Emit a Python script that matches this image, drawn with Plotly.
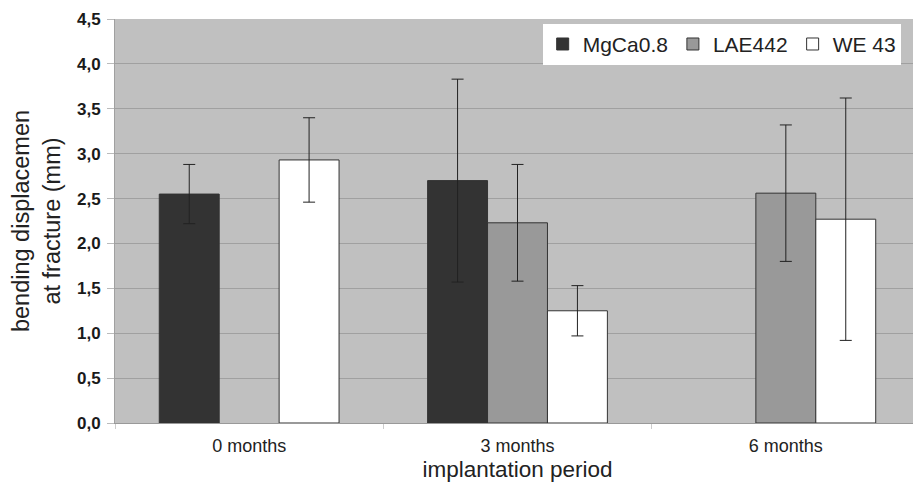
import plotly.graph_objects as go

categories = ["0 months", "3 months", "6 months"]
series_names = ["MgCa0.8", "LAE442", "WE 43"]
mgca_vals = [2.55, 2.70, None]
mgca_err = [0.33, 1.13, None]
lae_vals = [None, 2.23, 2.56]
lae_err = [None, 0.65, 0.76]
we_vals = [2.93, 1.25, 2.27]
we_err = [0.47, 0.28, 1.35]
y_ticks = [0, 0.5, 1.0, 1.5, 2.0, 2.5, 3.0, 3.5, 4.0, 4.5]
y_tick_labels = ["0,0", "0,5", "1,0", "1,5", "2,0", "2,5", "3,0", "3,5", "4,0", "4,5"]

colors = ["#333333", "#999999", "#ffffff"]
vals = [mgca_vals, lae_vals, we_vals]
errs = [mgca_err, lae_err, we_err]

fig = go.Figure()
for name, v, e, c in zip(series_names, vals, errs, colors):
    fig.add_trace(go.Bar(
        x=categories, y=v, name=name,
        marker=dict(color=c, line=dict(color="#333333", width=1)),
        error_y=dict(type="data", array=e, visible=True, color="#222222",
                     thickness=1, width=6),
    ))

fig.update_layout(
    width=913, height=478,
    margin=dict(l=107, r=1, t=11, b=63),
    paper_bgcolor="white",
    plot_bgcolor="#c0c0c0",
    barmode="group",
    bargap=0.33,
    bargroupgap=0,
    font=dict(family="Liberation Sans, Arial, sans-serif", color="#222222"),
    showlegend=True,
    legend=dict(
        orientation="h", x=0.976, xanchor="right", y=0.988, yanchor="top",
        bgcolor="white", bordercolor="white", borderwidth=0,
        font=dict(size=21, color="#222222"),
        traceorder="normal", itemwidth=30,
    ),
    xaxis=dict(
        automargin=False,
        title=dict(text="implantation period", font=dict(size=22.5, color="#222222"), standoff=6),
        tickfont=dict(size=18, color="#222222"),
        showline=True, linecolor="#999999", linewidth=1,
        ticks="outside", tickson="boundaries", ticklen=5, tickcolor="#cccccc",
        ticklabelstandoff=6,
        showgrid=False,
    ),
    yaxis=dict(
        automargin=False,
        title=dict(text="bending displacemen<br>at fracture (mm)",
                   font=dict(size=23.5, color="#222222"), standoff=10),
        range=[0, 4.5],
        tickvals=y_ticks, ticktext=y_tick_labels,
        tickfont=dict(size=17, color="#1a1a1a", family="Liberation Sans, Arial, sans-serif", weight="bold"),
        ticklabeloverflow="allow",
        showgrid=True, gridcolor="#a0a0a0", gridwidth=1,
        zeroline=False,
        showline=True, linecolor="#a0a0a0",
        ticks="outside", ticklen=7, tickcolor="#bbbbbb",
        ticklabelstandoff=3,
    ),
)

fig.write_html("out.html")
